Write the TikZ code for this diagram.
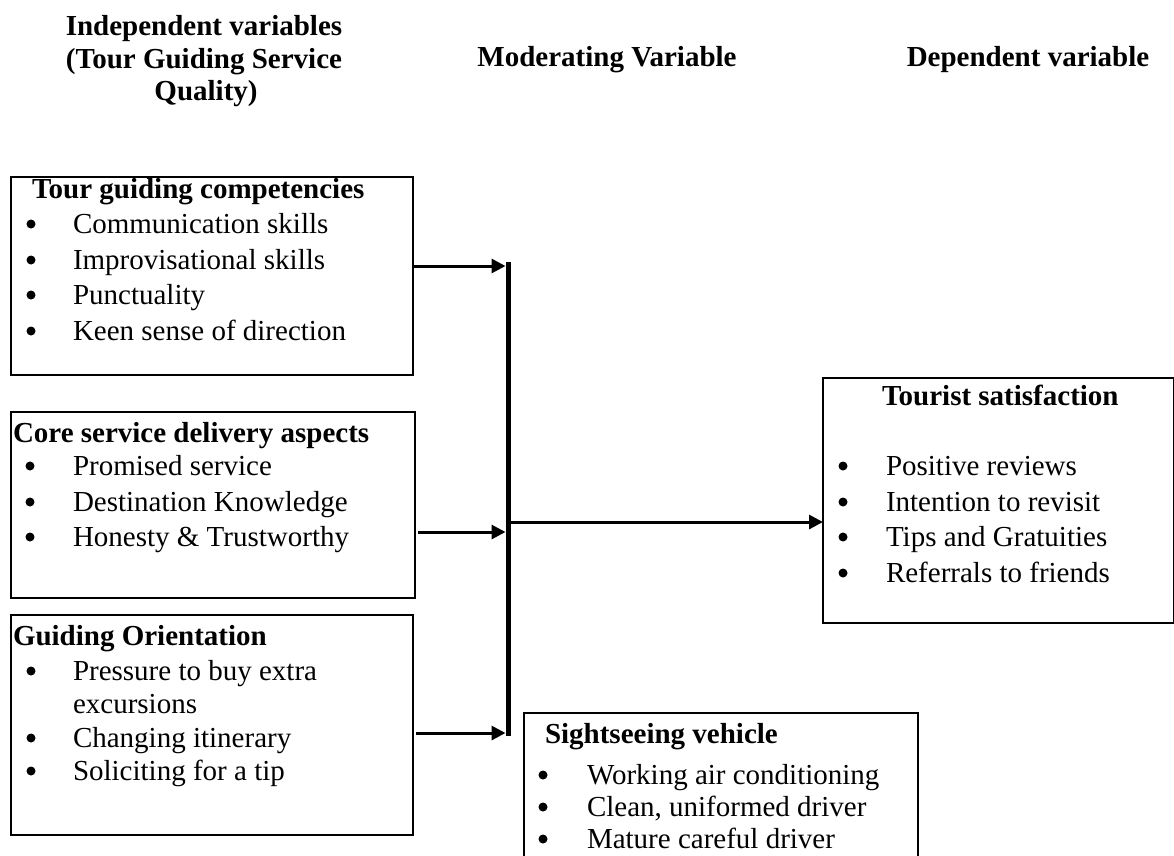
\documentclass[tikz,border=0pt]{standalone}
\usepackage{fontspec}
\setmainfont{Liberation Serif}
\usetikzlibrary{arrows.meta}
\newcommand{\bulletdot}[2]{\fill (#1,#2) circle (4.5pt);}
\begin{document}
\begin{tikzpicture}[x=1pt,y=-1pt,
  every node/.style={inner sep=0pt, outer sep=0pt},
  txt/.style={anchor=base west, font=\fontsize{29}{35}\selectfont},
  hd/.style={anchor=base, font=\fontsize{29}{35}\selectfont\bfseries},
  ttl/.style={anchor=base west, font=\fontsize{29}{35}\selectfont\bfseries},
  box/.style={draw, line width=1.6pt, anchor=north west},
  arr/.style={line width=3pt, -{Triangle[length=14pt,width=14pt]}},
  trunk/.style={line width=5pt}]
\useasboundingbox (0,0) rectangle (1174,855);
% headers
\node[hd] (h1a) at (204,35) {Independent variables};
\node[hd] (h1b) at (204,68) {(Tour Guiding Service};
\node[hd] (h1c) at (206,100) {Quality)};
\node[hd] (h2) at (607,66) {Moderating Variable};
\node[hd] (h3) at (1028,66) {Dependent variable};
% boxes
\node[box, minimum width=402pt, minimum height=198pt] (b1) at (11,177) {};
\node[box, minimum width=404pt, minimum height=186pt] (b2) at (11,412) {};
\node[box, minimum width=402pt, minimum height=220pt] (b3) at (11,615) {};
\node[box, minimum width=351pt, minimum height=245pt] (b4) at (823,378) {};
\node[box, minimum width=394pt, minimum height=160pt] (b5) at (524,713) {};
% box 1
\node[ttl] (t1) at (32,198) {Tour guiding competencies};
\node[txt] (i11) at (73,233) {Communication skills};
\node[txt] (i12) at (73,269) {Improvisational skills};
\node[txt] (i13) at (73,304) {Punctuality};
\node[txt] (i14) at (73,340) {Keen sense of direction};
\bulletdot{31}{224}\bulletdot{31}{260}\bulletdot{31}{295}\bulletdot{31}{331}
% box 2
\node[ttl] (t2) at (13,442) {Core service delivery aspects};
\node[txt] (i21) at (73,475) {Promised service};
\node[txt] (i22) at (73,511) {Destination Knowledge};
\node[txt] (i23) at (73,546) {Honesty \& Trustworthy};
\bulletdot{30}{466}\bulletdot{30}{502}\bulletdot{30}{537}
% box 3
\node[ttl] (t3) at (13,645) {Guiding Orientation};
\node[txt] (i31) at (73,680) {Pressure to buy extra};
\node[txt] (i31b) at (73,713) {excursions};
\node[txt] (i32) at (73,747) {Changing itinerary};
\node[txt] (i33) at (73,780) {Soliciting for a tip};
\bulletdot{31}{671}\bulletdot{31}{738}\bulletdot{31}{771}
% box 4
\node[ttl] (t4) at (882,405) {Tourist satisfaction};
\node[txt] (i41) at (886,475) {Positive reviews};
\node[txt] (i42) at (886,511) {Intention to revisit};
\node[txt] (i43) at (886,546) {Tips and Gratuities};
\node[txt] (i44) at (886,582) {Referrals to friends};
\bulletdot{843}{466}\bulletdot{843}{502}\bulletdot{843}{537}\bulletdot{843}{573}
% box 5
\node[ttl] (t5) at (545,743) {Sightseeing vehicle};
\node[txt] (i51) at (587,784) {Working air conditioning};
\node[txt] (i52) at (587,816) {Clean, uniformed driver};
\node[txt] (i53) at (587,848) {Mature careful driver};
\bulletdot{543}{775}\bulletdot{543}{807}\bulletdot{543}{839}
% connectors
\coordinate (vt) at (508,262);
\coordinate (vb) at (508,735.5);
\coordinate (j1) at (508,266);
\coordinate (j2) at (508,532);
\coordinate (j3) at (508,733);
\coordinate (jo) at (508,522);
\draw[trunk] (vt) -- (vb);
\draw[arr, shorten >=2.5pt] (b1.east |- j1) -- (j1);
\draw[arr, shorten <=3pt, shorten >=2.5pt] (b2.east |- j2) -- (j2);
\draw[arr, shorten <=3pt, shorten >=2.5pt] (b3.east |- j3) -- (j3);
\draw[arr, shorten <=2.5pt] (jo) -- (b4.west |- jo);
\end{tikzpicture}
\end{document}
